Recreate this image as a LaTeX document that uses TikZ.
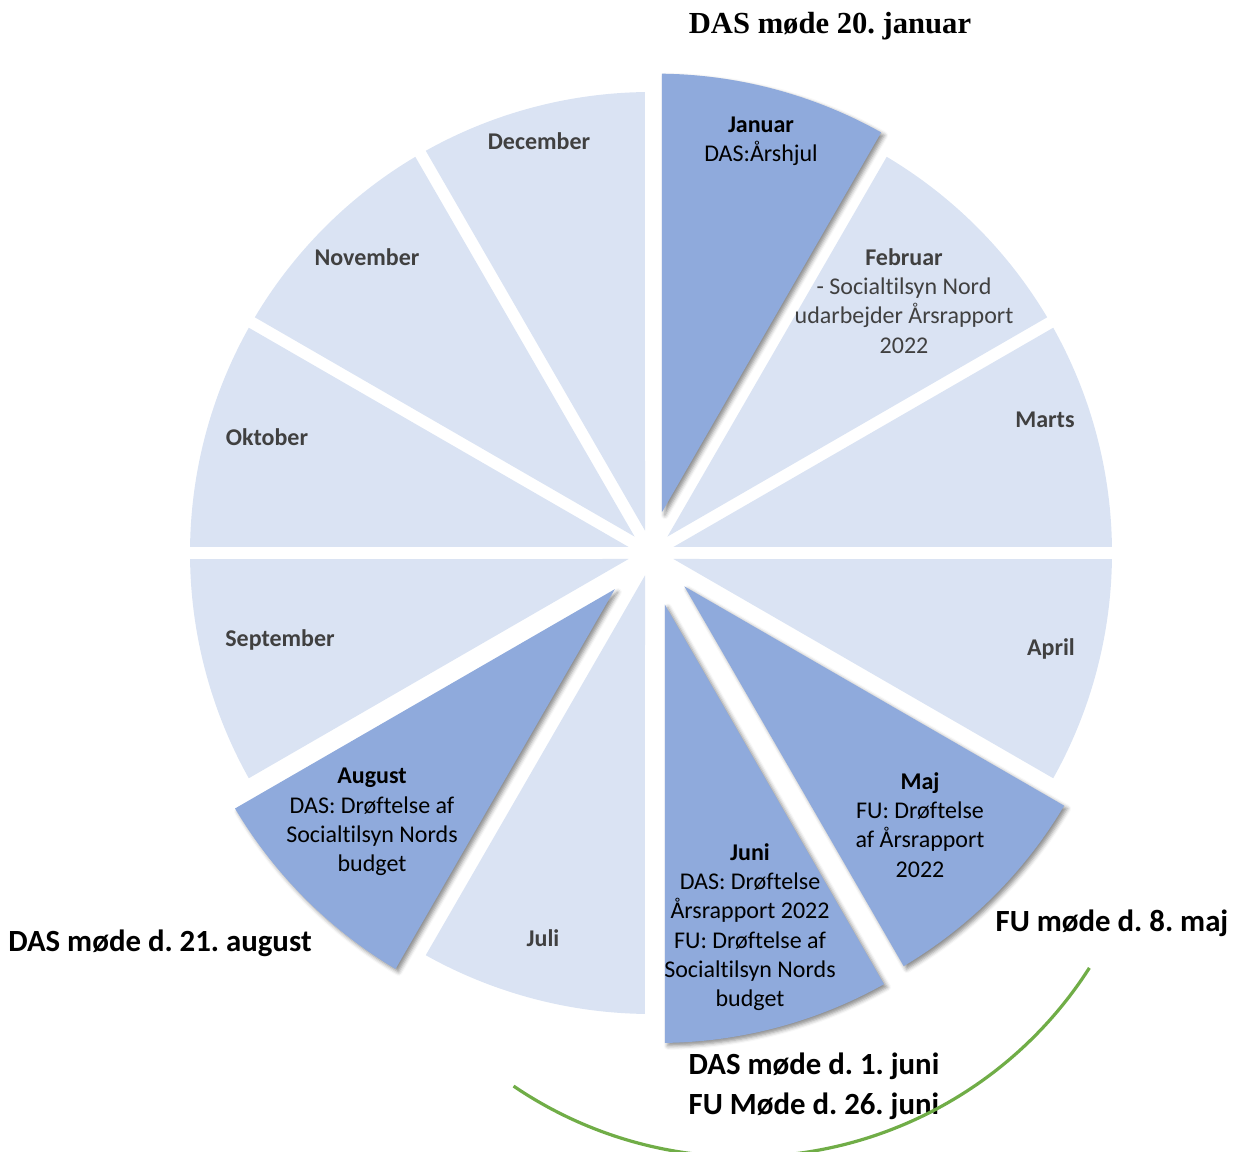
\documentclass[tikz,border=0pt]{standalone}
\usepackage{fontspec}
\setmainfont[Ligatures=NoCommon]{Carlito}
\newfontfamily\titlefont{Liberation Serif}
\usetikzlibrary{calc, shadows.blur}
\definecolor{wheellight}{HTML}{DAE3F3}
\definecolor{wheeldark}{HTML}{8FAADC}
\definecolor{labelgray}{HTML}{404040}
\definecolor{arcgreen}{HTML}{70AD47}
\frenchspacing

\begin{document}
\begin{tikzpicture}[
    x=0.5pt, y=0.5pt,
    slice/.style={fill=wheellight},
    hislice/.style={fill=wheeldark, blur shadow={shadow xshift=1.5pt, shadow yshift=-1.5pt, shadow blur radius=2pt, shadow opacity=45}},
    month/.style={font=\fontsize{12}{14.65}\selectfont\bfseries, text=labelgray, align=center},
    note/.style={font=\fontsize{12}{14.65}\selectfont, text=black, align=center},
    meeting/.style={font=\fontsize{15.4}{20}\selectfont\bfseries, align=left}
]
    \useasboundingbox (0,0) rectangle (1236,1151);
    \coordinate (c) at (651,598);

    % Wheel: start angle / explode distance / style
    \foreach \s/\d/\sty in {30/0/slice, 0/0/slice, -30/0/slice, -120/0/slice, -180/0/slice,
                            150/0/slice, 120/0/slice, 90/0/slice,
                            60/19/hislice, -60/24/hislice, -90/30/hislice, -150/28/hislice}
        \fill[\sty] ($(c)+(\s+15:\d)+(\s+15:23.2)$) -- ($(c)+(\s+15:\d)+(\s+0.75:461)$)
            arc[start angle=\s+0.75, end angle=\s+29.25, radius=461] -- cycle;

    % Title
    \node[font=\titlefont\fontsize{15.3}{18}\selectfont\bfseries] (title) at (830,1125) {DAS møde 20. januar};

    % Months
    \node[month] (dec) at (539,1010) {December};
    \node[month] (nov) at (367,894) {November};
    \node[month] (okt) at (267,714) {Oktober};
    \node[month] (sep) at (280,511) {September};
    \node[month] (jul) at (543,213) {Juli};
    \node[month] (apr) at (1051,502) {April};
    \node[month] (mar) at (1045,731) {Marts};
    \node[month, font=\fontsize{12}{14.65}\selectfont] (feb) at (904,850)
        {\textbf{Februar}\\- Socialtilsyn Nord\\udarbejder Årsrapport\\2022};

    % Highlighted months
    \node[note] (jan) at (761,1010) {\textbf{Januar}\\DAS:Årshjul};
    \node[note] (maj) at (920,326) {\textbf{Maj}\\FU: Drøftelse\\af Årsrapport\\2022};
    \node[note] (jun) at (750,224)
        {\textbf{Juni}\\DAS: Drøftelse\\Årsrapport 2022\\FU: Drøftelse af\\Socialtilsyn Nords\\budget};
    \node[note] (aug) at (372,329) {\textbf{August}\\DAS: Drøftelse af\\Socialtilsyn Nords\\budget};

    % Meetings
    \node[meeting] (augmeet) at (160,208) {DAS møde d. 21. august};
    \node[meeting] (majmeet) at (1112,228) {FU møde d. 8. maj};
    \node[meeting] (junmeet) at (814,65) {DAS møde d. 1. juni\\FU Møde d. 26. juni};

    % Green arc
    \coordinate (arcc) at (744,404);
    \draw[arcgreen, line width=1.6pt] ($(arcc)+(-124.2:410)$) arc[start angle=-124.2, end angle=-32.6, radius=410];
\end{tikzpicture}
\end{document}
